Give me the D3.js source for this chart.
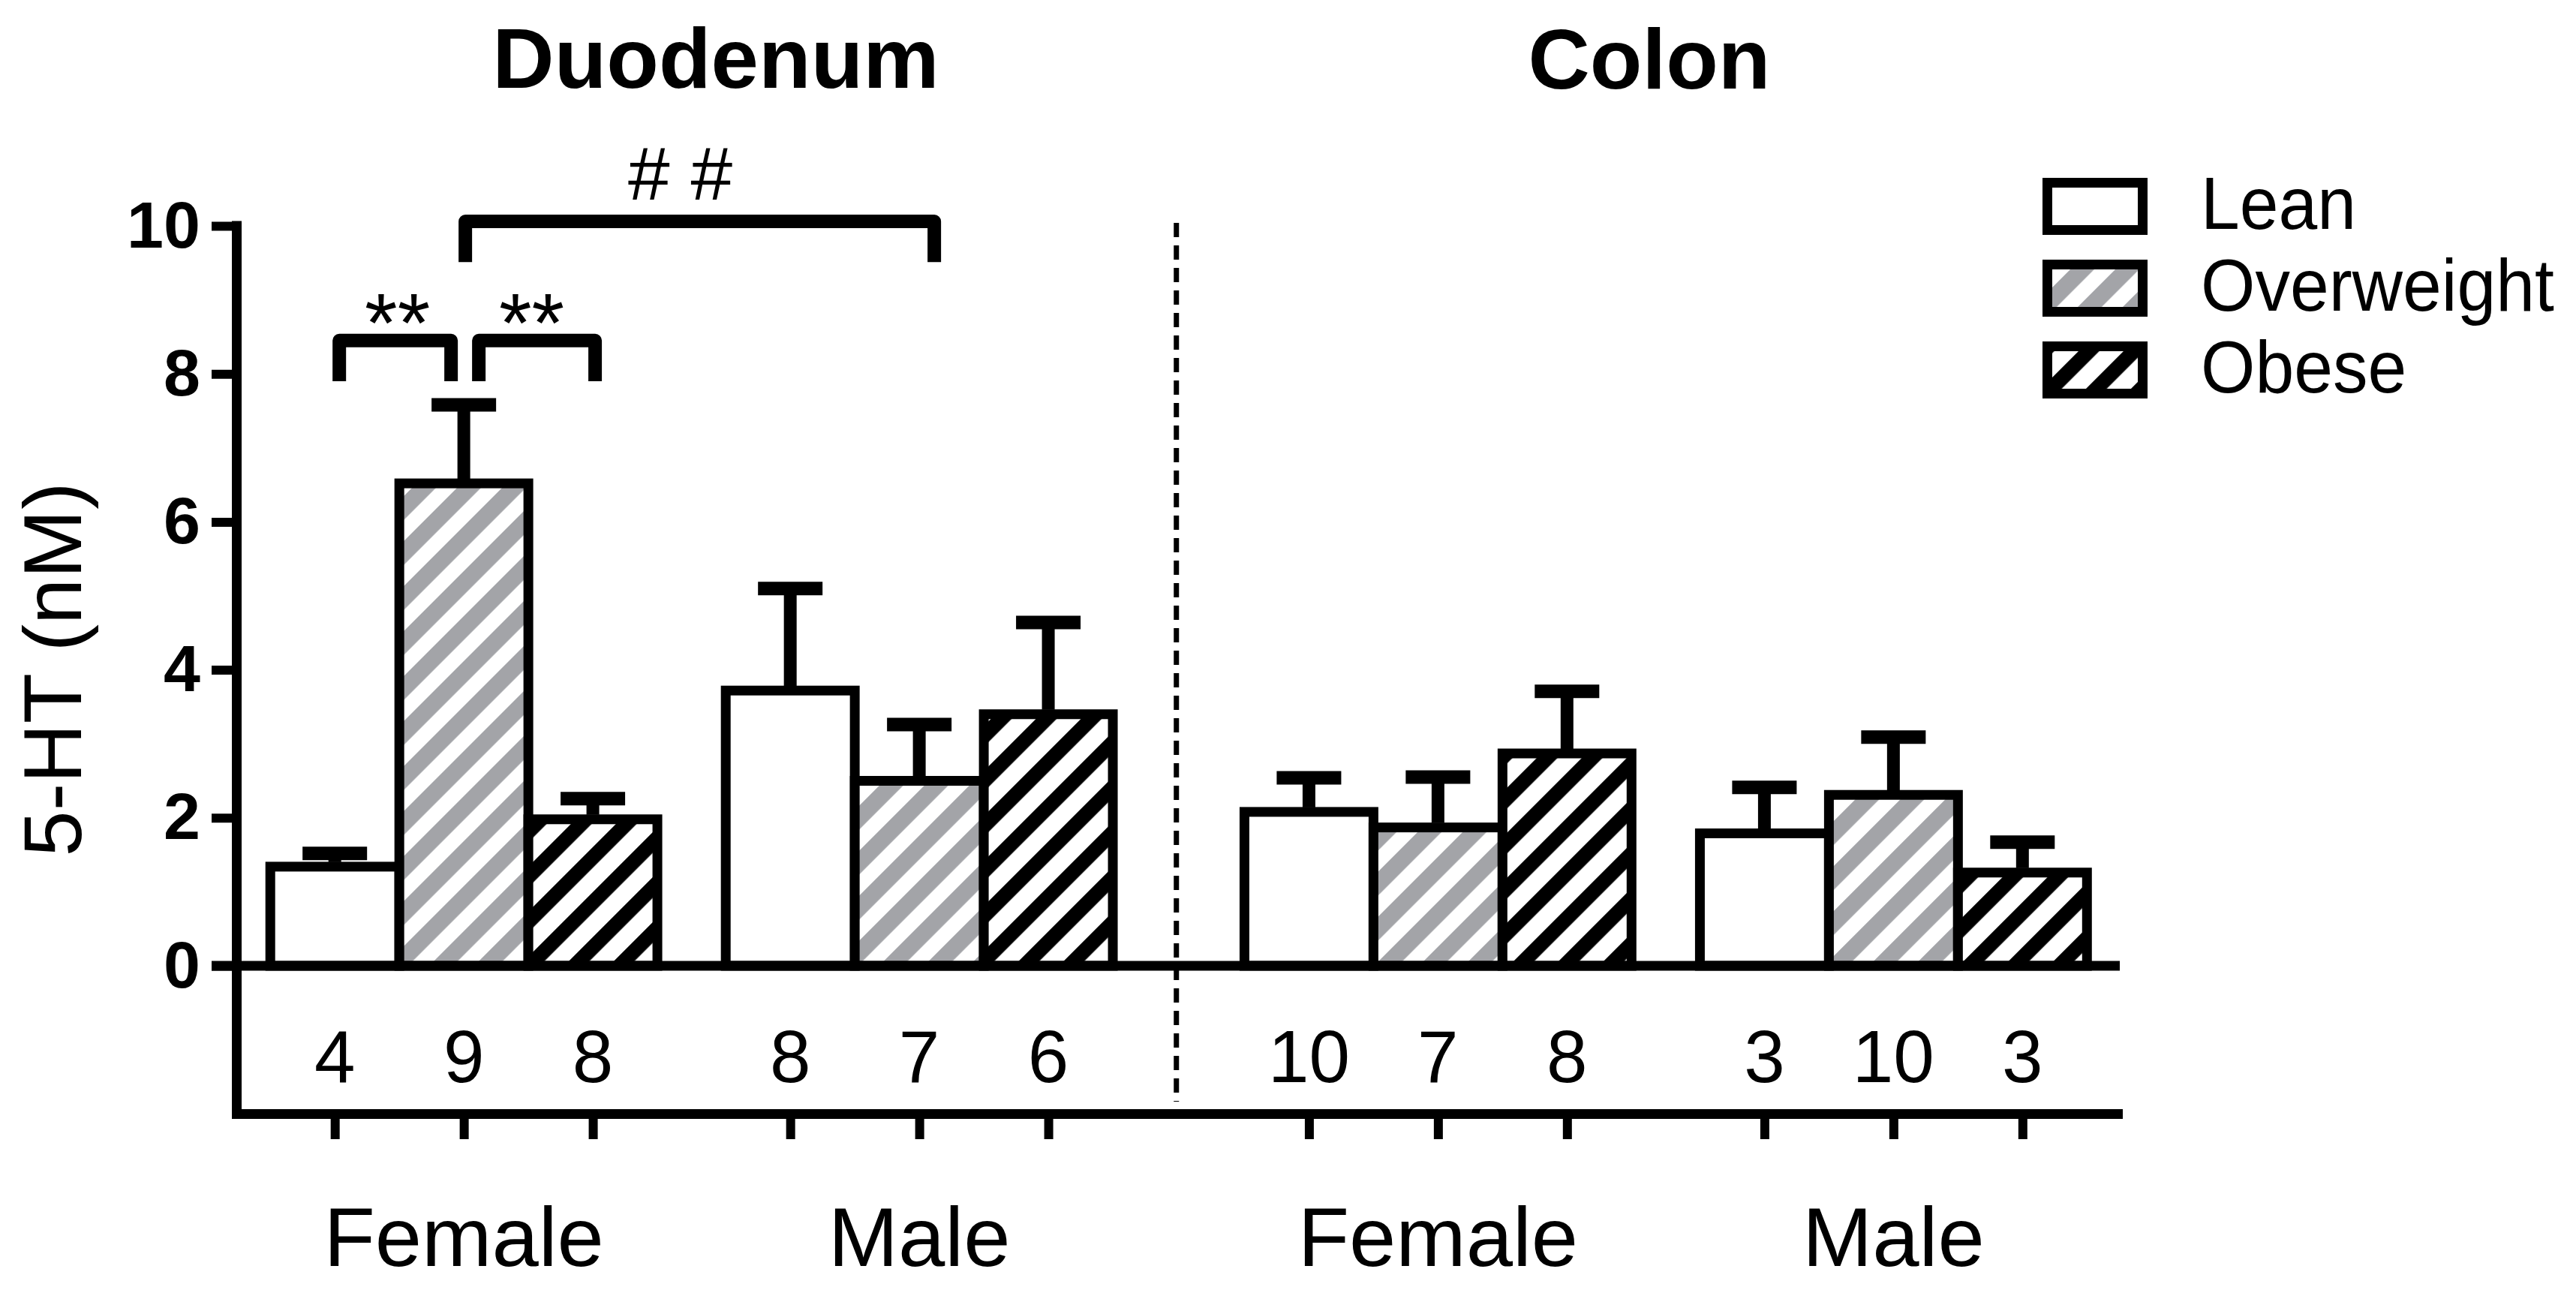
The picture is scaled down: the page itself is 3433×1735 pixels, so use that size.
<!DOCTYPE html>
<html>
<head>
<meta charset="utf-8">
<script src="https://cdn.jsdelivr.net/npm/d3@7"></script>
<style>
  html, body { margin: 0; padding: 0; background: #fff; }
  svg { display: block; }
  text { font-family: "Liberation Sans", Arial, Helvetica, sans-serif; fill: #000; }
</style>
</head>
<body>
<svg id="chart" width="3433" height="1735"></svg>
<script>
// ---------------- data ----------------
const sections = ["Duodenum", "Colon"];
const sexes = ["Female", "Male"];
const groups = ["Lean", "Overweight", "Obese"];

const duodenumFemaleMean = [1.34, 6.52, 1.98];
const duodenumFemaleSEM  = [0.18, 1.06, 0.28];
const duodenumMaleMean   = [3.72, 2.50, 3.40];
const duodenumMaleSEM    = [1.38, 0.76, 1.24];
const colonFemaleMean    = [2.08, 1.87, 2.87];
const colonFemaleSEM     = [0.46, 0.68, 0.84];
const colonMaleMean      = [1.79, 2.31, 1.26];
const colonMaleSEM       = [0.62, 0.78, 0.41];

const duodenumFemaleN = [4, 9, 8];
const duodenumMaleN   = [8, 7, 6];
const colonFemaleN    = [10, 7, 8];
const colonMaleN      = [3, 10, 3];

const yTicks = [0, 2, 4, 6, 8, 10];
const yLabel = "5-HT (nM)";

// significance brackets (value-space levels)
const brackets = [
  { from: ["Duodenum", "Female", "Lean"], to: ["Duodenum", "Female", "Overweight"], label: "**", top: 8.45, legEnd: 7.90 },
  { from: ["Duodenum", "Female", "Overweight"], to: ["Duodenum", "Female", "Obese"], label: "**", top: 8.45, legEnd: 7.90 },
  { from: ["Duodenum", "Female", "Overweight"], to: ["Duodenum", "Male", "Overweight"], label: "# #", top: 10.06, legEnd: 9.51 }
];

const meanTable = { Duodenum: { Female: duodenumFemaleMean, Male: duodenumMaleMean },
                    Colon:    { Female: colonFemaleMean,    Male: colonMaleMean } };
const semTable  = { Duodenum: { Female: duodenumFemaleSEM,  Male: duodenumMaleSEM },
                    Colon:    { Female: colonFemaleSEM,     Male: colonMaleSEM } };
const nTable    = { Duodenum: { Female: duodenumFemaleN,    Male: duodenumMaleN },
                    Colon:    { Female: colonFemaleN,       Male: colonMaleN } };

// ---------------- layout ----------------
const svg = d3.select("#chart");
svg.append("rect").attr("width", 3433).attr("height", 1735).attr("fill", "#fff");

const outerM = 0.26, groupGap = 0.53, sectionGap = 1.02;
const totalUnits = 2 * outerM + 12 + 2 * groupGap + sectionGap;
function groupStart(si, gi) {
  const k = si * 2 + gi;
  return outerM + k * 3 + k * groupGap + si * (sectionGap - groupGap);
}

const x = d3.scaleLinear().domain([0, totalUnits]).range([315.5, 2826]);
const y = d3.scaleLinear().domain([0, 10]).range([1287, 301]);
const barW = x(1) - x(0);

const rows = [];
sections.forEach((sec, si) => sexes.forEach((sex, gi) => groups.forEach((grp, k) => {
  const u = groupStart(si, gi) + k;
  rows.push({ sec, sex, grp, k, u,
    mean: meanTable[sec][sex][k], sem: semTable[sec][sex][k], n: nTable[sec][sex][k] });
})));
const centerX = (sec, sex, grp) => {
  const r = rows.find(d => d.sec === sec && d.sex === sex && d.grp === grp);
  return x(r.u + 0.5);
};

// ---------------- patterns ----------------
const defs = svg.append("defs");
function stripePattern(id, color, period, stripe) {
  const p = defs.append("pattern").attr("id", id)
    .attr("patternUnits", "userSpaceOnUse")
    .attr("width", period).attr("height", 20)
    .attr("patternTransform", "rotate(45)");
  p.append("rect").attr("width", period).attr("height", 20).attr("fill", "#fff");
  p.append("rect").attr("x", 0).attr("width", stripe).attr("height", 20).attr("fill", color);
}
stripePattern("hatchGray", "#a3a4a8", 42.4, 22.5);
stripePattern("hatchBlack", "#000", 42.4, 19.5);
const fillFor = { Lean: "#fff", Overweight: "url(#hatchGray)", Obese: "url(#hatchBlack)" };

// ---------------- bars ----------------
svg.append("g").selectAll("rect").data(rows).join("rect")
  .attr("x", d => x(d.u)).attr("width", barW)
  .attr("y", d => y(d.mean)).attr("height", d => y(0) - y(d.mean))
  .attr("fill", d => fillFor[d.grp])
  .attr("stroke", "#000").attr("stroke-width", 13);

// error bars (upper only)
const eb = svg.append("g");
eb.selectAll("line.v").data(rows).join("line").attr("class", "v")
  .attr("x1", d => x(d.u + 0.5)).attr("x2", d => x(d.u + 0.5))
  .attr("y1", d => y(d.mean) - 6).attr("y2", d => y(d.mean + d.sem))
  .attr("stroke", "#000").attr("stroke-width", 17);
eb.selectAll("line.c").data(rows).join("line").attr("class", "c")
  .attr("x1", d => x(d.u + 0.5) - 43).attr("x2", d => x(d.u + 0.5) + 43)
  .attr("y1", d => y(d.mean + d.sem)).attr("y2", d => y(d.mean + d.sem))
  .attr("stroke", "#000").attr("stroke-width", 18);

// ---------------- axes ----------------
svg.append("line").attr("x1", 282).attr("x2", 2825).attr("y1", y(0)).attr("y2", y(0))
  .attr("stroke", "#000").attr("stroke-width", 13);
const bottomY = 1484.5;
svg.append("line").attr("x1", 315.5).attr("x2", 315.5).attr("y1", y(10) - 6.5).attr("y2", bottomY + 6.5)
  .attr("stroke", "#000").attr("stroke-width", 13);
svg.append("line").attr("x1", 309).attr("x2", 2829).attr("y1", bottomY).attr("y2", bottomY)
  .attr("stroke", "#000").attr("stroke-width", 13);

const yAxis = d3.axisLeft(y).tickValues(yTicks).tickSize(33.5).tickPadding(15).tickFormat(d3.format("d"));
const gy = svg.append("g").attr("transform", "translate(315.5,0)").call(yAxis);
gy.select(".domain").remove();
gy.selectAll(".tick line").attr("stroke", "#000").attr("stroke-width", 12);
gy.selectAll(".tick text").attr("font-size", 88).attr("font-weight", "bold")
  .attr("font-family", "Liberation Sans, Arial, sans-serif").attr("fill", "#000");

const xAxis = d3.axisBottom(x).tickValues(rows.map(d => d.u + 0.5)).tickSize(27).tickFormat("");
const gx = svg.append("g").attr("transform", `translate(0,${bottomY + 6.5})`).call(xAxis);
gx.select(".domain").remove();
gx.selectAll(".tick line").attr("stroke", "#000").attr("stroke-width", 12);

// n counts
svg.append("g").selectAll("text").data(rows).join("text")
  .attr("x", d => x(d.u + 0.5)).attr("y", 1442)
  .attr("text-anchor", "middle").attr("font-size", 98)
  .text(d => d.n);

// group labels
const groupLabels = [];
sections.forEach((sec, si) => sexes.forEach((sex, gi) => groupLabels.push({ sex, u: groupStart(si, gi) + 1.5 })));
svg.append("g").selectAll("text").data(groupLabels).join("text")
  .attr("x", d => x(d.u)).attr("y", 1687)
  .attr("text-anchor", "middle").attr("font-size", 112)
  .text(d => d.sex);

// dashed separator
const sepX = x((groupStart(0, 1) + 3 + groupStart(1, 0)) / 2) - 3;
svg.append("line").attr("x1", sepX).attr("x2", sepX).attr("y1", 297).attr("y2", 1468)
  .attr("stroke", "#000").attr("stroke-width", 7).attr("stroke-dasharray", "19 11");

// section titles
svg.append("text").attr("x", 954).attr("y", 117).attr("text-anchor", "middle")
  .attr("font-size", 114).attr("font-weight", "bold").text(sections[0]);
svg.append("text").attr("x", 2198).attr("y", 118).attr("text-anchor", "middle")
  .attr("font-size", 114).attr("font-weight", "bold").text(sections[1]);

// y label
svg.append("text").attr("transform", "translate(108,892) rotate(-90)")
  .attr("text-anchor", "middle").attr("font-size", 110).text(yLabel);

// ---------------- brackets ----------------
const bracketAdj = [ { dx1: 6, dx2: -17, tdx: 3 }, { dx1: 20, dx2: 3, tdx: -7 }, { dx1: 2, dx2: 20, tdx: -26 } ];
const bg = svg.append("g");
brackets.forEach((b, i) => {
  const a = bracketAdj[i];
  const x1 = centerX(...b.from) + a.dx1, x2 = centerX(...b.to) + a.dx2;
  const yt = y(b.top), yl = y(b.legEnd);
  bg.append("path")
    .attr("d", `M${x1},${yl} L${x1},${yt} L${x2},${yt} L${x2},${yl}`)
    .attr("fill", "none").attr("stroke", "#000").attr("stroke-width", 18)
    .attr("stroke-linejoin", "round").attr("stroke-linecap", "butt");
  const isStar = b.label.indexOf("*") >= 0;
  bg.append("text").attr("x", (x1 + x2) / 2 + a.tdx)
    .attr("y", isStar ? yt + 15 : yt - 29)
    .attr("text-anchor", "middle").attr("font-size", isStar ? 112 : 100)
    .text(b.label);
});

// ---------------- legend ----------------
const lg = svg.append("g");
groups.forEach((grp, i) => {
  const top = 237 + i * 109;
  lg.append("rect").attr("x", 2728.5).attr("y", top + 6.5).attr("width", 127).attr("height", 63)
    .attr("fill", fillFor[grp]).attr("stroke", "#000").attr("stroke-width", 13);
  lg.append("text").attr("transform", `translate(2933,${top + 68}) scale(0.95,1)`)
    .attr("font-size", 98).text(grp);
});
</script>
</body>
</html>
